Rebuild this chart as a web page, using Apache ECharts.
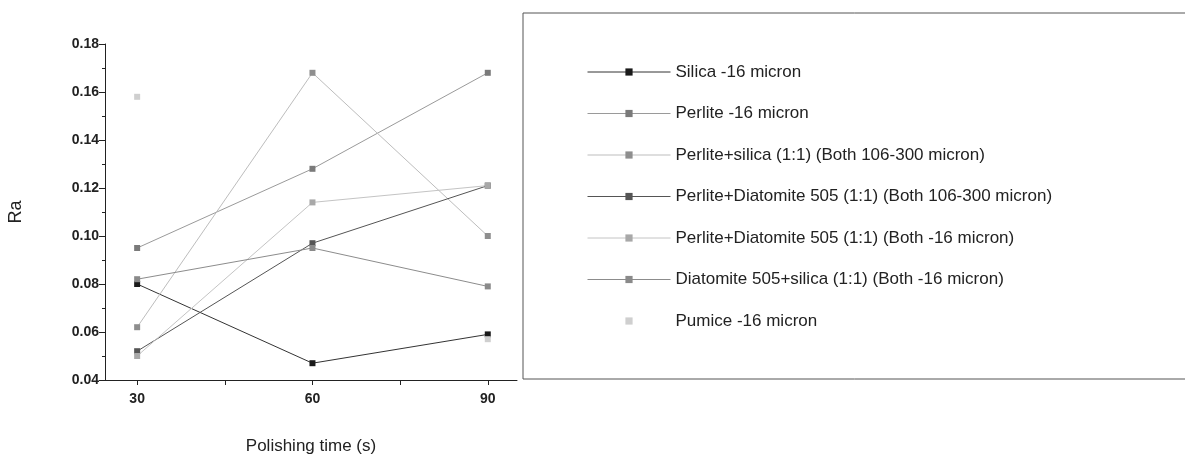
<!DOCTYPE html>
<html>
<head>
<meta charset="utf-8">
<script src="https://cdn.jsdelivr.net/npm/echarts@6/dist/echarts.min.js"></script>
<style>
  html, body { margin: 0; padding: 0; background: #fff; }
  #main { width: 1185px; height: 455px; }
</style>
</head>
<body>
<div id="main"></div>
<script>
// polishing time (s)
var times = [30, 60, 90];
var xTicks = [30, 45, 60, 75, 90];
var xLabels = [30, 60, 90];

// Ra values
var silica16 = [0.080, 0.047, 0.059];
var perlite16 = [0.095, 0.128, 0.168];
var perliteSilica = [0.062, 0.168, 0.100];
var perliteDiatomiteCoarse = [0.052, 0.097, 0.121];
var perliteDiatomiteFine = [0.050, 0.114, 0.121];
var diatomiteSilica = [0.082, 0.095, 0.079];
var pumiceTimes = [30, 90];
var pumice16 = [0.158, 0.057];

var names = [
    'Silica -16 micron',
    'Perlite -16 micron',
    'Perlite+silica (1:1) (Both 106-300 micron)',
    'Perlite+Diatomite 505 (1:1) (Both 106-300 micron)',
    'Perlite+Diatomite 505 (1:1) (Both -16 micron)',
    'Diatomite 505+silica (1:1) (Both -16 micron)',
    'Pumice -16 micron'
];
var values = [silica16, perlite16, perliteSilica, perliteDiatomiteCoarse, perliteDiatomiteFine, diatomiteSilica];
var markColors = ['#1a1a1a', '#7a7a7a', '#8e8e8e', '#555555', '#a8a8a8', '#8a8a8a', '#cfcfcf'];
var lineColors = ['#333333', '#9a9a9a', '#bdbdbd', '#555555', '#c4c4c4', '#8c8c8c', '#cfcfcf'];

function pairs(xs, ys) {
    return xs.map(function (x, i) { return [x, ys[i]]; });
}

var series = values.map(function (v, i) {
    return {
        name: names[i],
        type: 'line',
        data: pairs(times, v),
        symbol: 'rect',
        symbolSize: 6,
        itemStyle: { color: markColors[i] },
        lineStyle: { color: lineColors[i], width: 1 }
    };
});
series.push({
    name: names[6],
    type: 'line',
    data: pairs(pumiceTimes, pumice16),
    symbol: 'rect',
    symbolSize: 6,
    itemStyle: { color: markColors[6] },
    lineStyle: { width: 0, opacity: 0 }
});

var font = "'Liberation Sans', Arial, sans-serif";
var myChart = echarts.init(document.getElementById('main'));

var option = {
    backgroundColor: '#ffffff',
    animation: false,
    textStyle: { fontFamily: font },
    grid: { left: 105, right: 668, top: 44, bottom: 75, outerBoundsMode: 'none', containLabel: false },
    legend: {
        orient: 'vertical',
        left: 582,
        top: 57,
        itemWidth: 83,
        itemHeight: 9,
        itemGap: 21.5,
        data: names,
        lineStyle: { width: 1 },
        textStyle: { fontFamily: font, fontSize: 17, color: '#222', lineHeight: 20 }
    },
    graphic: [{
        type: 'rect',
        shape: { x: 523, y: 13, width: 700, height: 366 },
        style: { fill: 'none', stroke: '#555', lineWidth: 1 },
        silent: true
    }],
    xAxis: {
        type: 'value',
        min: 24.5,
        max: 95,
        name: 'Polishing time (s)',
        nameLocation: 'middle',
        nameGap: 58,
        nameTextStyle: { fontFamily: font, fontSize: 17, color: '#222' },
        axisLine: { show: true, onZero: false, lineStyle: { color: '#222', width: 1 } },
        axisTick: { show: true, length: 5, customValues: xTicks, lineStyle: { color: '#222' } },
        axisLabel: { customValues: xLabels, margin: 12, fontSize: 14, color: '#222', fontWeight: 'bold' },
        splitLine: { show: false }
    },
    yAxis: {
        type: 'value',
        min: 0.04,
        max: 0.18,
        interval: 0.02,
        name: 'Ra',
        nameLocation: 'middle',
        nameGap: 80,
        nameTextStyle: { fontFamily: font, fontSize: 18, color: '#222' },
        axisLine: { show: true, lineStyle: { color: '#222', width: 1 } },
        axisTick: { show: true, length: 6, lineStyle: { color: '#222' } },
        minorTick: { show: true, splitNumber: 2, length: 3, lineStyle: { color: '#222' } },
        axisLabel: {
            margin: 6, fontSize: 14, color: '#222', fontWeight: 'bold',
            formatter: function (v) { return v.toFixed(2); }
        },
        splitLine: { show: false }
    },
    series: series
};

myChart.setOption(option);
</script>
</body>
</html>
